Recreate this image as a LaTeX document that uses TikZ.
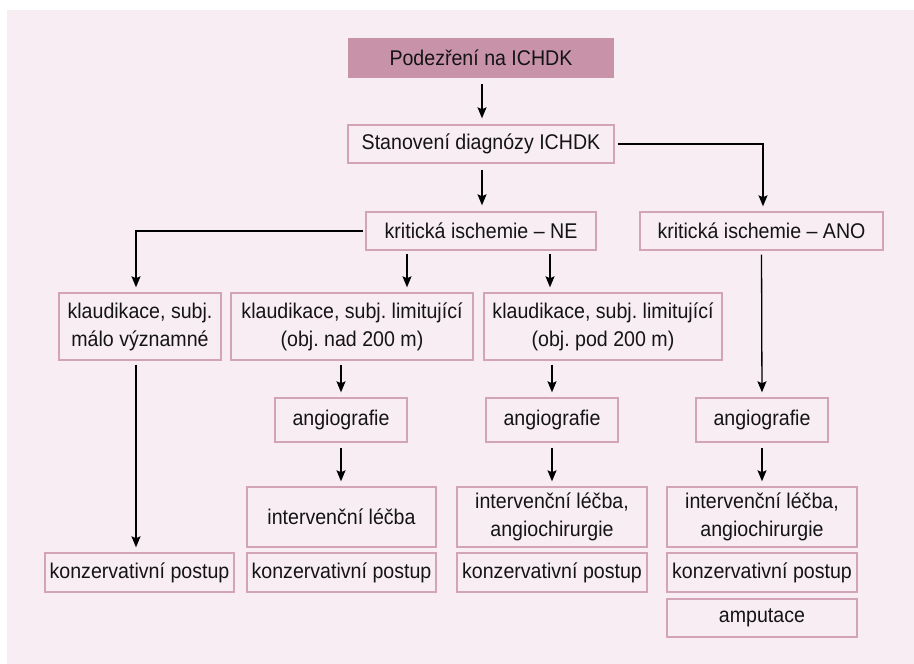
\documentclass[tikz,border=0pt]{standalone}
\usepackage{fontspec}
\setmainfont{Liberation Sans}[FakeStretch=0.92]
\usetikzlibrary{arrows.meta}
\definecolor{bgpink}{HTML}{F7EDF3}
\definecolor{boxborder}{HTML}{D3A3B7}
\definecolor{topfill}{HTML}{C893A9}
\tikzset{
  bx/.style={draw=boxborder, line width=1.4pt, align=center, inner sep=0pt,
    font=\fontsize{21.3}{28}\selectfont\frenchspacing, text=black!92},
  topbx/.style={fill=topfill, inner sep=0pt, align=center,
    font=\fontsize{21.3}{28}\selectfont\frenchspacing, text=black!92},
  conn/.style={line width=1.3pt, -{Stealth[length=11pt,width=9pt,inset=2pt]}},
}
\begin{document}
\begin{tikzpicture}[x=1pt,y=-1pt]
\useasboundingbox (0,0) rectangle (914,664);
\fill[bgpink] (7,10) rectangle (914,664);
% level nodes
\node[topbx, minimum width=266pt, minimum height=40pt] (pod) at (481,58) {Podezření na ICHDK};
\node[bx, minimum width=266pt, minimum height=38pt] (stan) at (481,144) {Stanovení diagnózy ICHDK};
\node[bx, minimum width=230pt, minimum height=38pt] (ne) at (481,231) {kritická ischemie – NE};
\node[bx, minimum width=243pt, minimum height=38pt] (ano) at (761.5,231) {kritická ischemie – ANO};
\node[bx, minimum width=162pt, minimum height=67pt] (a) at (140,326.5) {klaudikace, subj.\\málo významné};
\node[bx, minimum width=242pt, minimum height=67pt] (b) at (352,326.5) {klaudikace, subj. limitující\\(obj. nad 200 m)};
\node[bx, minimum width=238pt, minimum height=67pt] (c) at (603,326.5) {klaudikace, subj. limitující\\(obj. pod 200 m)};
% column A
\node[bx, minimum width=189pt, minimum height=39pt] (konza) at (139.5,572.5) {konzervativní postup};
% column B
\node[bx, minimum width=132pt, minimum height=44pt] (angb) at (341,420) {angiografie};
\node[bx, minimum width=189pt, minimum height=60pt] (intb) at (341.5,517) {intervenční léčba};
\node[bx, minimum width=189pt, minimum height=39pt] (konzb) at (341.5,572.5) {konzervativní postup};
% column C
\node[bx, minimum width=132pt, minimum height=44pt] (angc) at (552,420) {angiografie};
\node[bx, minimum width=190pt, minimum height=60pt] (intc) at (552,517) {intervenční léčba,\\angiochirurgie};
\node[bx, minimum width=190pt, minimum height=39pt] (konzc) at (552,572.5) {konzervativní postup};
% column D
\node[bx, minimum width=132pt, minimum height=44pt] (angd) at (762,420) {angiografie};
\node[bx, minimum width=190pt, minimum height=60pt] (intd) at (762,517) {intervenční léčba,\\angiochirurgie};
\node[bx, minimum width=190pt, minimum height=39pt] (konzd) at (762,572.5) {konzervativní postup};
\node[bx, minimum width=190pt, minimum height=38pt] (amp) at (762,618) {amputace};
% connectors
\draw[conn, shorten <=6pt, shorten >=6pt] ([xshift=1pt]pod.south) -- ([xshift=1pt]stan.north);
\draw[conn, shorten <=6pt, shorten >=6pt] ([xshift=1pt]stan.south) -- ([xshift=1pt]ne.north);
\draw[conn, shorten <=3pt, shorten >=5pt] (stan.east) -| ([xshift=1.5pt]ano.north);
\draw[conn, shorten <=2pt, shorten >=5pt] (ne.west) -| ([xshift=-4pt]a.north);
\draw[conn, shorten <=3pt, shorten >=5pt] ([xshift=-74pt]ne.south) -- ([xshift=55pt]b.north);
\draw[conn, shorten <=3pt, shorten >=5pt] ([xshift=69pt]ne.south) -- ([xshift=-53pt]c.north);
\draw[conn, shorten <=4pt, shorten >=5pt] (ano.south) -- (angd.north);
\draw[conn, shorten <=4pt, shorten >=5pt] ([xshift=-4pt]a.south) -- ([xshift=-3.5pt]konza.north);
\draw[conn, shorten <=4pt, shorten >=5pt] ([xshift=-11pt]b.south) -- (angb.north);
\draw[conn, shorten <=5pt, shorten >=5pt] (angb.south) -- ([xshift=-0.5pt]intb.north);
\draw[conn, shorten <=4pt, shorten >=5pt] ([xshift=-51pt]c.south) -- (angc.north);
\draw[conn, shorten <=5pt, shorten >=5pt] (angc.south) -- (intc.north);
\draw[conn, shorten <=5pt, shorten >=5pt] (angd.south) -- (intd.north);
\end{tikzpicture}
\end{document}
